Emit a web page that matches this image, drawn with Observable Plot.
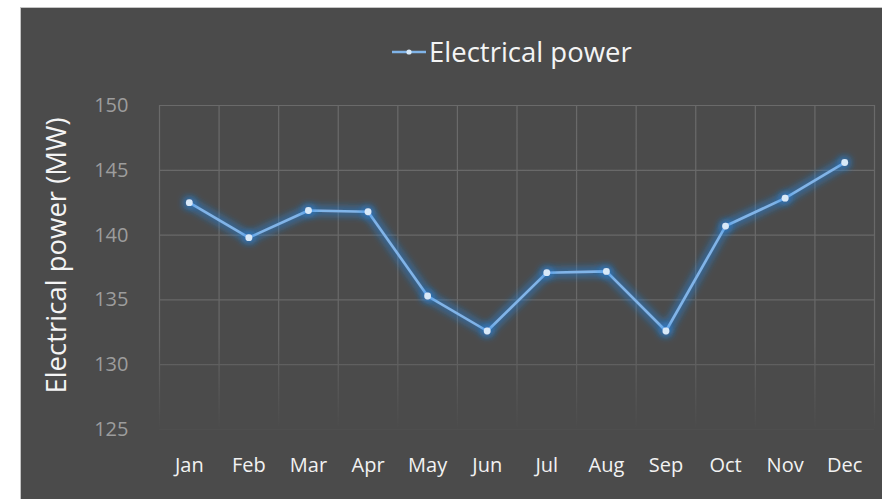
<!DOCTYPE html>
<html>
<head>
<meta charset="utf-8">
<script src="https://cdn.jsdelivr.net/npm/d3@7"></script>
<script src="https://cdn.jsdelivr.net/npm/@observablehq/plot@0.6"></script>
<style>
  html, body { margin: 0; padding: 0; background: #ffffff; width: 882px; height: 499px; overflow: hidden; }
  #frame { position: absolute; left: 20px; top: 7px; width: 862px; height: 492px; background: #4b4b4b;
           border-left: 1px solid #c4c4c4; border-top: 1px solid #c4c4c4; font-family: "Open Sans", sans-serif; }
  #legend { position: absolute; top: 25px; left: 371px; display: flex; align-items: center; color: #f4f4f4; font-size: 27.5px; line-height: 38px; }
  #legend svg { margin-right: 3px; }
  #chart { position: absolute; left: 0; top: 72px; }
</style>
</head>
<body>
<div id="frame">
  <div id="legend"></div>
  <div id="chart"></div>
</div>
<script>
const seriesName = "Electrical power";
const yTitle = "Electrical power (MW)";
const months = ["Jan", "Feb", "Mar", "Apr", "May", "Jun", "Jul", "Aug", "Sep", "Oct", "Nov", "Dec"];
const power = [142.5, 139.8, 141.9, 141.8, 135.3, 132.6, 137.1, 137.2, 132.6, 140.7, 142.85, 145.6];
const yTicks = [125, 130, 135, 140, 145, 150];

const lineColor = "#80b4e8";
const dotColor = "#d8e9f8";

const data = months.map((m, i) => ({i, month: m, value: power[i]}));
const idx = d3.range(months.length);
const edges = d3.range(months.length + 1).map(k => k - 0.5);

const W = 861, H = 419;

const plot = Plot.plot({
  width: W,
  height: H,
  marginLeft: 138,
  marginRight: 8,
  marginTop: 25,
  marginBottom: 70,
  style: {background: "transparent", fontFamily: "Open Sans, sans-serif", overflow: "visible"},
  x: {domain: [-0.5, months.length - 0.5]},
  y: {domain: [125, 150]},
  marks: [
    Plot.ruleY(yTicks, {stroke: "url(#gridFadeH)", strokeWidth: 1.2}),
    Plot.ruleX(edges, {y1: 125, y2: 150, stroke: "url(#gridFadeV)", strokeWidth: 1.2}),
    Plot.axisY(yTicks, {tickSize: 0, tickPadding: 31, fontSize: 20, fill: "#9d9d9d", label: null}),
    Plot.axisX(idx, {tickSize: 0, tickPadding: 28, fontSize: 20, fill: "#f2f2f2", label: null,
                     tickFormat: i => months[i]}),
    Plot.text([yTitle], {frameAnchor: "left", textAnchor: "middle", rotate: -90, dx: -102, dy: -12, fontSize: 27.5, fill: "#f4f4f4"}),
    Plot.line(data, {x: "i", y: "value", stroke: lineColor, strokeWidth: 2.6}),
    Plot.dot(data, {x: "i", y: "value", r: 3.4, fill: dotColor, stroke: "none"})
  ]
});

const ns = "http://www.w3.org/2000/svg";
const defs = document.createElementNS(ns, "defs");
defs.innerHTML = `
  <linearGradient id="gridFadeV" gradientUnits="userSpaceOnUse" x1="0" y1="25" x2="0" y2="349">
    <stop offset="0" stop-color="#6a6a6a"/>
    <stop offset="0.72" stop-color="#686868"/>
    <stop offset="1" stop-color="#4b4b4b"/>
  </linearGradient>
  <linearGradient id="gridFadeH" gradientUnits="userSpaceOnUse" x1="0" y1="25" x2="0" y2="349">
    <stop offset="0" stop-color="#6a6a6a"/>
    <stop offset="0.72" stop-color="#666666"/>
    <stop offset="1" stop-color="#4e4e4e"/>
  </linearGradient>
  <filter id="glow" filterUnits="userSpaceOnUse" x="0" y="0" width="${W}" height="${H}">
    <feGaussianBlur in="SourceAlpha" stdDeviation="5" result="blur"/>
    <feFlood flood-color="#2d8cf0" flood-opacity="1"/>
    <feComposite in2="blur" operator="in" result="glow"/>
    <feMerge><feMergeNode in="glow"/><feMergeNode in="glow"/><feMergeNode in="SourceGraphic"/></feMerge>
  </filter>`;
plot.insertBefore(defs, plot.firstChild);
plot.querySelectorAll('g[aria-label="line"], g[aria-label="dot"]').forEach(g => g.setAttribute("filter", "url(#glow)"));

document.getElementById("chart").appendChild(plot);

const legend = document.getElementById("legend");
legend.innerHTML = `<svg width="34" height="12"><line x1="0" y1="6" x2="34" y2="6" stroke="${lineColor}" stroke-width="2.4"/><circle cx="17" cy="6" r="2.6" fill="${dotColor}"/></svg><span>${seriesName}</span>`;
</script>
</body>
</html>
